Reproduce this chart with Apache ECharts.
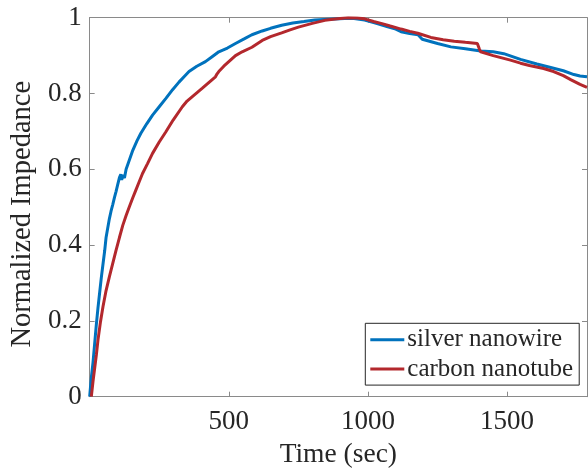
<!DOCTYPE html>
<html>
<head>
<meta charset="utf-8">
<script src="https://cdn.jsdelivr.net/npm/echarts@6/dist/echarts.min.js"></script>
<style>
html,body{margin:0;padding:0;background:#fff;}
#chart{width:588px;height:475px;}
</style>
</head>
<body>
<div id="chart"></div>
<script>
// ---- data ----
var seriesNames = ['silver nanowire', 'carbon nanotube'];
var xTicks = [500, 1000, 1500];
var yTicks = [0, 0.2, 0.4, 0.6, 0.8, 1];

var silverX = [0,6,12,18,24,30,36,42,48,54,59,65,71,77,83,89,95,101,107,112,115,120,125,131,143,155,170,184,205,226,250,274,298,321,340,357,385,416,440,464,495,524,555,583,620,650,690,730,770,809,860,916,950,988,1030,1071,1100,1119,1150,1180,1195,1250,1298,1350,1405,1450,1488,1548,1607,1660,1702,1740,1762,1787];
var silverY = [0,0.05,0.09,0.14,0.19,0.235,0.275,0.315,0.35,0.385,0.42,0.445,0.47,0.49,0.507,0.525,0.542,0.56,0.578,0.587,0.572,0.585,0.577,0.6,0.625,0.65,0.675,0.695,0.72,0.743,0.765,0.787,0.81,0.83,0.845,0.858,0.872,0.884,0.897,0.91,0.92,0.932,0.944,0.955,0.965,0.972,0.98,0.986,0.99,0.994,0.996,0.998,0.998,0.994,0.985,0.976,0.97,0.963,0.958,0.955,0.943,0.932,0.923,0.918,0.912,0.91,0.905,0.89,0.878,0.868,0.86,0.85,0.846,0.844];

var carbonX = [6,12,18,24,30,39,48,59,71,83,95,107,119,131,143,155,166,178,190,208,226,250,274,300,333,350,369,387,405,430,452,458,464,482,500,524,548,583,620,650,690,720,750,800,845,890,929,960,988,1020,1047,1080,1119,1150,1179,1226,1270,1310,1350,1393,1400,1405,1450,1512,1548,1580,1631,1667,1702,1730,1762,1787];
var carbonY = [0,0.04,0.075,0.11,0.15,0.198,0.238,0.28,0.317,0.352,0.387,0.42,0.452,0.478,0.502,0.525,0.545,0.567,0.589,0.615,0.642,0.672,0.699,0.73,0.765,0.78,0.792,0.803,0.814,0.83,0.844,0.852,0.858,0.872,0.884,0.9,0.91,0.922,0.94,0.95,0.96,0.968,0.975,0.985,0.993,0.997,1.0,0.999,0.997,0.99,0.985,0.978,0.97,0.964,0.959,0.948,0.942,0.938,0.935,0.932,0.918,0.91,0.9,0.888,0.88,0.874,0.866,0.858,0.847,0.836,0.824,0.816];

var colors = ['#0072BD', '#B3282D'];

function pairs(xs, ys) {
  var out = [];
  for (var i = 0; i < xs.length; i++) out.push([xs[i], ys[i]]);
  return out;
}

var FONT = "'Liberation Serif', 'Times New Roman', Times, serif";
var AX = '#8a8a8a';
var TXT = '#262626';

var chart = echarts.init(document.getElementById('chart'), null, {renderer: 'canvas'});
var xMin = 0, xMax = 1787;
var option = {
  backgroundColor: '#fff',
  animation: false,
  textStyle: {fontFamily: FONT},
  grid: {left: 86.7, top: 17.7, right: 1, bottom: 78.3, containLabel: false},
  legend: {
    orient: 'vertical',
    left: 365.3,
    top: 323.3,
    data: seriesNames,
    icon: 'rect',
    itemWidth: 34,
    itemHeight: 3,
    itemGap: 3.3,
    padding: [3.5, 6, 3, 5],
    borderColor: '#262626',
    borderWidth: 1,
    backgroundColor: '#fff',
    textStyle: {fontFamily: FONT, fontSize: 25, color: TXT, lineHeight: 26, padding: [0, 0, 0, -2]}
  },
  xAxis: [{
    type: 'value', min: xMin, max: xMax, interval: 500, position: 'bottom',
    name: 'Time (sec)', nameLocation: 'middle', nameGap: 43,
    nameTextStyle: {fontFamily: FONT, fontSize: 27.5, color: TXT},
    axisLine: {show: true, onZero: false, lineStyle: {color: AX, width: 1}},
    axisTick: {show: true, inside: true, length: 5, lineStyle: {color: AX}},
    axisLabel: {fontFamily: FONT, fontSize: 27, color: TXT, margin: 12, showMinLabel: false, showMaxLabel: false,
      formatter: function (v) { return xTicks.indexOf(v) >= 0 ? String(v) : ''; }},
    splitLine: {show: false}
  }, {
    type: 'value', min: xMin, max: xMax, interval: 500, position: 'top',
    axisLine: {show: true, onZero: false, lineStyle: {color: AX, width: 1}},
    axisTick: {show: true, inside: true, length: 5, lineStyle: {color: AX}},
    axisLabel: {show: false},
    splitLine: {show: false}
  }],
  yAxis: [{
    type: 'value', min: 0, max: 1, interval: 0.2, position: 'left',
    name: 'Normalized Impedance', nameLocation: 'middle', nameGap: 50,
    nameTextStyle: {fontFamily: FONT, fontSize: 28.5, color: TXT, padding: [0, 14, 0, 0]},
    axisLine: {show: true, onZero: false, lineStyle: {color: AX, width: 1}},
    axisTick: {show: true, inside: true, length: 5, lineStyle: {color: AX}},
    axisLabel: {fontFamily: FONT, fontSize: 27, color: TXT, margin: 8,
      formatter: function (v) { var r = Math.round(v * 10) / 10; return yTicks.indexOf(r) >= 0 ? String(r) : ''; }},
    splitLine: {show: false}
  }, {
    type: 'value', min: 0, max: 1, interval: 0.2, position: 'right',
    axisLine: {show: true, onZero: false, lineStyle: {color: AX, width: 1}},
    axisTick: {show: true, inside: true, length: 5, lineStyle: {color: AX}},
    axisLabel: {show: false},
    splitLine: {show: false}
  }],
  series: [{
    name: seriesNames[0], type: 'line', data: pairs(silverX, silverY),
    xAxisIndex: 0, yAxisIndex: 0, symbol: 'none', smooth: false,
    lineStyle: {color: colors[0], width: 3}, itemStyle: {color: colors[0]}, z: 3
  }, {
    name: seriesNames[1], type: 'line', data: pairs(carbonX, carbonY),
    xAxisIndex: 0, yAxisIndex: 0, symbol: 'none', smooth: false,
    lineStyle: {color: colors[1], width: 3}, itemStyle: {color: colors[1]}, z: 4
  }]
};
chart.setOption(option);
</script>
</body>
</html>
